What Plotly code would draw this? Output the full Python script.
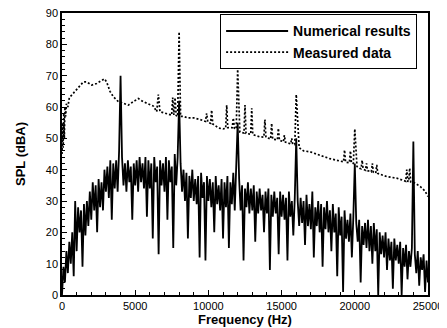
import plotly.graph_objects as go

num_freq = list(range(0, 25001, 100))
num_spl = [
    0, 9, 4, 14, 7, 17, 10, 20, 6, 30,          # 0-900
    14, 28, 20, 27, 9, 29, 19, 30, 22, 33,      # 1000-1900
    24, 36, 27, 35, 20, 37, 28, 36, 27, 40,     # 2000-2900
    33, 41, 31, 43, 24, 42, 34, 43, 33, 46,     # 3000-3900
    70, 44, 35, 42, 33, 43, 36, 41, 24, 42,     # 4000-4900
    35, 43, 33, 44, 36, 42, 34, 44, 25, 43,     # 5000-5900
    34, 42, 18, 44, 36, 41, 13, 43, 35, 42,     # 6000-6900
    33, 44, 24, 43, 36, 41, 15, 45, 35, 44,     # 7000-7900
    62, 42, 33, 40, 30, 39, 18, 38, 31, 40,     # 8000-8900
    30, 37, 29, 38, 12, 39, 31, 36, 11, 38,     # 9000-9900
    30, 37, 28, 36, 20, 38, 29, 35, 27, 37,     # 10000-10900
    18, 36, 28, 38, 15, 36, 29, 39, 27, 42,     # 11000-11900
    55, 37, 27, 35, 11, 34, 28, 36, 26, 34,     # 12000-12900
    27, 35, 17, 33, 26, 34, 27, 32, 20, 33,     # 13000-13900
    26, 34, 8, 32, 25, 33, 26, 31, 13, 33,      # 14000-14900
    25, 32, 24, 31, 11, 33, 25, 30, 19, 31,     # 15000-15900
    50, 30, 22, 31, 23, 30, 16, 32, 22, 29,     # 16000-16900
    21, 33, 12, 28, 22, 30, 20, 29, 9, 28,      # 17000-17900
    21, 30, 20, 27, 14, 29, 20, 26, 6, 28,      # 18000-18900
    19, 25, 1, 27, 18, 24, 17, 26, 12, 25,      # 19000-19900
    42, 23, 17, 24, 4, 22, 16, 23, 15, 24,      # 20000-20900
    14, 22, 10, 23, 14, 21, 0, 20, 13, 19,      # 21000-21900
    12, 20, 8, 18, 11, 17, 2, 18, 11, 16,       # 22000-22900
    10, 17, 0, 15, 9, 16, 5, 14, 9, 15,         # 23000-23900
    49, 13, 7, 14, 3, 12, 8, 13, 1, 11,         # 24000-24900
    4,                                          # 25000
]

meas_freq = [
    0, 40, 80, 120, 160, 200, 250, 300, 400, 500, 660, 890, 1230, 1460, 1690,
    2030, 2370, 2710, 2900, 3050, 3280, 3500, 3850, 4190, 4530, 4870, 5210,
    5550, 5900, 6240, 6470, 6580, 6690, 7150, 7490, 7560, 7640, 7720, 7800,
    7900, 8000, 8100, 8300, 8600, 9000, 9430, 9800, 9880, 9960, 10150, 10220,
    10300, 10700, 11000, 11180, 11250, 11320, 11630, 11700, 11780, 11900,
    12000, 12150, 12430, 12500, 12570, 12890, 12960, 13030, 13500, 13790,
    13860, 13930, 14250, 14320, 14390, 14710, 14780, 14850, 15120, 15190,
    15260, 15620, 15690, 15760, 15900, 16000, 16200, 16500, 16940, 17400,
    17850, 18300, 18760, 19000, 19230, 19300, 19370, 19630, 19700, 19770,
    19900, 20000, 20150, 20350, 20430, 20500, 20570, 20730, 20800, 20870,
    21130, 21200, 21270, 21430, 21500, 21570, 22180, 22860, 23430, 23480,
    23550, 23620, 23680, 23750, 23820, 24000, 24220, 24500, 24790, 25000,
]
meas_spl = [
    45, 55, 47, 58, 50, 60, 57, 61, 60, 63, 63.8, 65, 67, 68, 68,
    67, 67.5, 68.6, 69, 68, 65, 63.3, 61.7, 61.2, 60.6, 61.7, 62.7,
    61.7, 61, 60.3, 58.5, 64, 58.5, 58, 57.4, 63, 57.5, 63, 57.3,
    57, 84, 57, 57, 56.5, 56.5, 56, 55.4, 58, 55.2, 54.8, 59,
    54.6, 53.3, 53, 53.2, 60.6, 53.4, 53.4, 56.5, 53.2, 53,
    72, 52, 51.7, 60.6, 51.6, 51.3, 59.6, 51.2, 50.5, 50.4,
    56, 50.3, 49.8, 54.8, 49.7, 49.5, 53.2, 49.4, 48.9, 51,
    48.8, 48.2, 50, 48.1, 48, 64, 47, 46, 45.7, 45,
    44.1, 43.5, 43, 42.7, 42.5, 46.3, 42.4, 42.2, 46, 42.1,
    42, 53, 41, 40.4, 40.3, 43, 40.2, 39.8, 42, 39.7,
    39.3, 42, 39.2, 38.9, 41.5, 38.8, 37.8, 37.3, 36.4, 36.3,
    40, 36.3, 36.2, 40.5, 36.1, 36, 35.4, 34.5, 33.2, 31.4,
]

x_ticks = [0, 5000, 10000, 15000, 20000, 25000]
y_ticks = [0, 10, 20, 30, 40, 50, 60, 70, 80, 90]

FONT = "Liberation Sans, Arial, sans-serif"

fig = go.Figure()
fig.add_trace(go.Scatter(
    x=num_freq, y=num_spl, mode="lines", name="Numerical results",
    line=dict(color="black", width=1.8),
))
fig.add_trace(go.Scatter(
    x=meas_freq, y=meas_spl, mode="lines", name="Measured data",
    line=dict(color="black", width=1.7, dash="2px,2px"),
))

axis_font = dict(family=FONT, size=11, color="black")
fig.update_layout(
    width=439, height=320,
    margin=dict(l=54, r=19, t=5, b=33),
    paper_bgcolor="white", plot_bgcolor="white",
    font=dict(family=FONT, color="black"),
    showlegend=True,
    legend=dict(
        x=0.432, y=0.995, xanchor="left", yanchor="top",
        bordercolor="black", borderwidth=1, bgcolor="white",
        font=dict(family=FONT, size=14, color="black", weight="bold"),
        itemwidth=62, tracegroupgap=0,
    ),
    xaxis=dict(
        range=[0, 25000], tickvals=x_ticks, ticktext=[str(v) for v in x_ticks],
        ticks="inside", ticklen=5, tickwidth=1, tickcolor="black",
        minor=dict(dtick=1000, ticks="inside", ticklen=3, tickcolor="black"),
        showline=True, linecolor="black", linewidth=1.5, mirror=True,
        showgrid=False, zeroline=False, tickfont=axis_font, automargin=False,
        ticklabeloverflow="allow",
        title=dict(text="<b>Frequency (Hz)</b>", standoff=2,
                   font=dict(family=FONT, size=13, color="black")),
    ),
    yaxis=dict(
        range=[0, 90], tickvals=y_ticks, ticktext=[str(v) for v in y_ticks],
        ticks="inside", ticklen=5, tickwidth=1, tickcolor="black",
        minor=dict(dtick=2, ticks="inside", ticklen=3, tickcolor="black"),
        showline=True, linecolor="black", linewidth=1.5, mirror=True,
        showgrid=False, zeroline=False, tickfont=axis_font, automargin=False,
        ticklabeloverflow="allow",
        title=dict(text="<b>SPL (dBA)</b>", standoff=17,
                   font=dict(family=FONT, size=13, color="black")),
    ),
)

fig.write_html("out.html")
